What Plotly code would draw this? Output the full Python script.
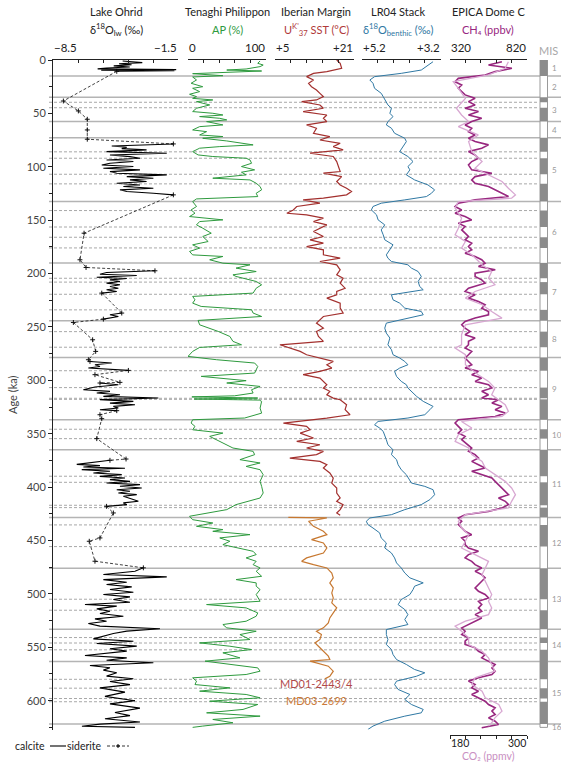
import plotly.graph_objects as go

# ---------------- data (age in ka, value) ----------------
OHRID_CALCITE = [
    [(1.0,-4.6),(2.5,-3.5),(3.5,-4.8),(4.5,-4.1),(5.5,-5.1),(6.5,-4.2),(7.5,-5.5),(8.3,-6.0),(9.0,-1.6),(9.5,-5.8),(10.0,-1.7),(10.6,-4.9)],
    [(78.6,-1.76),(80.5,-5.21),(81.7,-4.37),(83.0,-4.65),(84.2,-3.26),(85.8,-5.50),(87.3,-2.13),(88.9,-5.31),(90.5,-4.19),(92.0,-3.63),(93.6,-5.50),(95.1,-4.00),(96.7,-5.31),(98.3,-5.77),(99.8,-4.00),(101.4,-5.68),(102.9,-3.63),(104.5,-5.31),(106.0,-4.93),(107.6,-2.13),(109.2,-4.37),(110.7,-2.88),(112.3,-4.19),(113.8,-3.26),(115.4,-4.93),(117.0,-3.63),(118.5,-4.56),(120.1,-2.88),(121.6,-4.75),(123.2,-4.37),(124.8,-2.88),(126.3,-1.76)],
    [(197.4,-2.79),(199.0,-5.50),(200.6,-5.87),(201.8,-3.81),(203.4,-6.05),(204.6,-4.37),(205.9,-5.31),(207.4,-4.75),(209.0,-5.50),(210.5,-4.75),(212.1,-5.31),(213.7,-4.84),(215.2,-5.50),(216.8,-4.93),(218.3,-5.77)],
    [(237.0,-4.65),(238.6,-5.31),(240.2,-4.84),(241.7,-5.50),(242.7,-5.68)],
    [(282.3,-6.43),(283.8,-5.21),(285.4,-6.15),(287.0,-5.87),(288.5,-6.52),(290.7,-4.28)],
    [(302.5,-5.87),(304.1,-4.84),(306.3,-6.15),(308.8,-6.80),(310.3,-5.31),(311.9,-6.05),(313.5,-4.75),(315.0,-5.68),(316.6,-2.60),(318.1,-5.87),(319.7,-4.00),(321.3,-5.31),(322.8,-3.91),(324.4,-5.12),(325.9,-4.84),(327.5,-5.87),(328.4,-4.93)],
    [(374.9,-5.31),(376.8,-6.24),(378.7,-7.17),(379.9,-5.87),(381.1,-6.80),(382.4,-4.47),(383.6,-6.89),(385.2,-5.31),(386.8,-6.24),(388.3,-4.65),(389.9,-5.87),(391.4,-4.47),(393.0,-5.31),(394.6,-4.19),(396.1,-5.50),(397.7,-3.63),(399.2,-4.75),(400.8,-3.53),(402.4,-4.93),(403.9,-4.19),(405.5,-4.84),(407.0,-3.81),(408.6,-4.56),(411.1,-4.09),(413.3,-3.72),(414.8,-4.56),(416.4,-4.37),(418.0,-5.50)],
    [(475.6,-3.44),(478.8,-3.91),(481.9,-5.68),(484.1,-2.13),(486.6,-5.68),(489.1,-4.37),(491.2,-5.50),(493.4,-4.09),(495.9,-5.31),(498.4,-4.00),(500.6,-5.68),(502.8,-4.19),(505.3,-5.12),(507.8,-4.19),(510.0,-6.71),(511.5,-4.93),(514.0,-6.05),(516.2,-5.31),(518.4,-5.87),(520.9,-4.56),(523.4,-6.15),(525.6,-5.50),(527.7,-6.52),(530.2,-5.87),(532.7,-2.51),(534.9,-4.37),(537.1,-5.12),(539.6,-5.68),(542.1,-6.24),(544.3,-4.00),(546.5,-6.05),(548.9,-3.81),(551.4,-5.31),(553.6,-4.37),(555.8,-5.87),(557.7,-6.71),(559.9,-4.37),(562.1,-5.50),(564.5,-2.88),(567.0,-6.43),(569.2,-5.31),(571.4,-5.68),(573.9,-4.93),(577.0,-5.50),(579.5,-4.00),(582.0,-5.31),(585.0,-4.19),(588.0,-5.87),(592.0,-4.47),(596.0,-5.59),(600.0,-3.91),(603.0,-5.31),(607.0,-3.63),(611.0,-5.03),(614.0,-4.19),(617.0,-5.59),(620.0,-3.63),(622.0,-5.87),(624.0,-6.88),(625.0,-3.91)],
]
OHRID_SIDERITE = [
    [(10.6,-4.93),(38.4,-7.92),(47.7,-7.08),(55.5,-6.58),(65.5,-6.58),(74.2,-6.58),(78.6,-1.76)],
    [(126.3,-1.76),(162.2,-6.76),(187.1,-6.99),(194.3,-6.65),(197.4,-2.79)],
    [(218.3,-5.77),(237.0,-4.65)],
    [(242.7,-5.68),(245.8,-7.36),(262.0,-6.28),(272.9,-6.11),(280.7,-6.52),(282.3,-6.43)],
    [(290.7,-4.28),(294.7,-6.15),(301.9,-4.75),(302.5,-5.87)],
    [(328.4,-4.93),(332.2,-5.87),(335.9,-5.77),(354.6,-6.05),(373.7,-4.41),(374.9,-5.31)],
    [(418.0,-5.50),(424.2,-5.12),(447.6,-5.87),(450.7,-6.47),(469.4,-6.15),(475.6,-3.44)],
]
AP = [(0.9,93),(3.1,90),(4.7,97),(6.2,93),(8.4,75),(9.4,50),(10.3,95),(12.8,6),(14.7,45),(15.9,6),(18.7,11),(21.8,4),(25.0,19),(26.5,6),(29.6,15),(32.1,2),(34.3,11),(35.9,6),(37.4,32),(39.0,11),(42.1,28),(45.2,11),(48.3,6),(49.9,32),(51.5,45),(53.0,15),(54.6,41),(56.1,50),(57.7,24),(60.8,45),(62.4,15),(65.5,6),(67.1,24),(70.2,15),(71.7,45),(73.3,19),(75.8,50),(78.0,75),(79.5,84),(81.1,41),(82.6,15),(85.8,6),(88.9,13),(90.4,32),(92.0,75),(93.6,80),(96.7,82),(99.8,69),(102.9,86),(105.1,69),(107.6,75),(110.7,32),(112.3,80),(115.4,88),(118.5,93),(121.6,95),(124.8,88),(127.9,90),(130.1,11),(132.6,6),(137.2,11),(140.4,4),(143.5,9),(146.6,2),(149.7,45),(151.3,15),(154.4,11),(157.5,19),(162.2,30),(165.3,19),(170.0,26),(173.1,6),(176.2,15),(179.3,2),(182.5,6),(184.0,45),(187.1,28),(190.3,45),(191.8,80),(194.9,62),(198.1,88),(201.2,58),(202.7,62),(207.4,88),(210.5,95),(213.7,88),(218.3,84),(221.4,6),(224.6,9),(227.7,6),(230.8,17),(233.9,82),(237.0,84),(240.2,95),(243.9,13),(248.0,15),(254.2,39),(258.9,54),(263.5,58),(266.7,69),(269.2,15),(272.9,6),(277.6,0),(280.7,37),(283.8,86),(287.0,90),(290.1,88),(293.2,86),(296.3,17),(297.9,37),(300.3,75),(302.5,50),(305.7,93),(308.8,82),(311.9,84),(314.5,60),(315.5,5),(316.6,90),(317.5,8),(318.5,92),(319.7,95),(326.0,93),(330.7,95),(335.3,73),(336.9,6),(340.0,4),(343.1,9),(346.3,6),(349.4,45),(352.5,28),(355.6,37),(358.7,45),(363.4,58),(366.5,84),(369.6,86),(374.3,67),(377.4,93),(380.6,75),(383.7,93),(388.4,97),(394.6,93),(399.3,95),(405.5,97),(410.2,93),(416.4,62),(421.1,50),(424.2,28),(427.3,2),(430.5,6),(433.6,32),(436.7,11),(439.8,45),(441.4,32),(444.5,80),(447.6,41),(450.7,54),(453.9,45),(457.0,67),(460.1,84),(463.2,88),(466.3,75),(469.5,88),(472.6,84),(475.7,93),(478.8,88),(483.5,95),(486.6,62),(489.7,88),(492.8,88),(496.0,93),(500.6,88),(506.9,93),(510.0,24),(513.1,75),(517.8,90),(520.9,88),(525.6,75),(528.7,45),(531.8,50),(535.0,88),(538.1,67),(542.7,80),(545.9,15),(549.0,54),(552.1,82),(555.2,45),(559.9,67),(563.0,22),(566.1,58),(569.3,90),(572.4,93),(575.5,75),(578.6,6),(581.7,11),(584.9,9),(588.0,54),(591.1,15),(594.2,75),(597.3,93),(600.5,28),(603.6,90),(608.2,71),(611.4,24),(614.5,93),(617.6,32),(620.7,58),(623.8,19),(625.0,6)]
SST_MD01 = [(0.0,17.5),(3.1,18.2),(7.8,18.5),(10.9,15.5),(12.5,12.8),(15.6,11.4),(18.7,12.8),(21.8,11.8),(25.0,12.4),(28.1,13.4),(31.2,14.1),(34.3,14.8),(37.4,13.4),(39.0,10.4),(42.1,14.1),(45.2,14.8),(48.3,10.7),(51.5,15.5),(54.6,14.8),(57.7,15.5),(60.8,11.4),(63.9,13.4),(68.6,12.8),(71.7,16.1),(74.9,14.1),(78.0,18.2),(81.1,16.8),(84.2,18.8),(87.3,12.1),(90.4,16.8),(95.1,17.5),(99.8,17.8),(104.5,18.2),(106.0,14.8),(109.2,18.5),(113.8,17.5),(117.0,18.2),(120.1,19.5),(123.2,20.5),(126.3,19.5),(129.4,14.8),(131.0,10.7),(134.1,14.1),(137.2,9.4),(140.4,8.7),(143.5,7.4),(145.0,11.4),(148.1,14.8),(151.3,12.8),(154.4,15.5),(157.5,14.1),(160.6,12.8),(165.3,14.8),(168.4,12.1),(171.5,14.8),(174.7,11.4),(177.8,14.8),(182.5,14.8),(185.6,18.2),(188.7,14.1),(191.8,17.5),(196.5,18.2),(201.2,17.5),(204.3,18.8),(209.0,18.2),(213.7,19.2),(216.8,17.5),(219.9,17.5),(223.0,15.5),(227.7,18.2),(232.4,18.2),(237.0,18.8),(240.2,14.8),(243.3,14.1),(246.4,13.4),(251.1,14.8),(254.2,13.4),(258.9,13.8),(263.5,14.8),(266.7,6.0),(269.8,8.0),(272.9,10.1),(276.0,11.4),(279.1,14.1),(282.3,16.8),(285.4,15.5),(288.5,16.5),(291.6,14.1),(294.7,10.7),(297.9,14.1),(301.0,14.8),(304.1,15.5),(307.2,14.8),(310.3,16.1),(313.5,15.5),(316.6,16.8),(318.2,18.2),(322.9,19.5),(327.5,19.2),(332.2,20.2),(335.3,15.5),(340.0,6.7),(343.1,11.4),(346.3,12.1),(349.4,10.1),(354.0,12.8),(357.2,9.4),(360.3,14.1),(363.4,11.4),(366.5,14.8),(369.6,13.4),(372.8,8.0),(375.9,14.1),(379.0,15.5),(382.1,14.8),(386.8,16.1),(391.5,16.8),(396.2,16.5),(400.8,17.5),(405.5,17.5),(410.2,18.2),(413.3,17.5),(416.4,18.8),(421.1,18.2),(424.2,17.5),(426.4,18.2)]
SST_MD03 = [(428.3,7.7),(428.9,15.5),(432.0,11.8),(436.7,12.8),(441.4,14.8),(444.5,15.5),(449.2,12.4),(452.3,14.8),(457.0,15.5),(461.7,14.8),(466.3,11.4),(469.5,10.4),(472.6,12.8),(475.7,15.5),(480.4,16.5),(485.0,16.8),(489.7,16.1),(494.4,16.8),(499.1,16.5),(503.8,16.8),(508.4,16.5),(513.1,17.5),(517.8,16.8),(522.5,16.1),(527.2,15.8),(531.8,14.8),(535.0,13.4),(538.1,14.4),(542.7,14.1),(545.9,13.1),(549.0,13.8),(553.7,14.8),(558.3,15.8),(561.5,16.1),(563.0,12.1),(567.7,15.8),(572.4,16.8),(577.1,16.1),(579.6,15.1)]
LR04 = [(1.6,3.39),(6.2,3.56),(9.4,3.69),(12.5,4.20),(15.6,4.88),(18.7,5.00),(21.8,4.92),(26.5,4.88),(31.2,4.71),(34.3,4.66),(37.4,4.62),(42.1,4.54),(45.2,4.45),(49.9,4.49),(53.0,4.41),(57.7,4.54),(60.8,4.58),(63.9,4.45),(68.6,4.37),(73.3,4.11),(76.4,4.07),(81.1,4.15),(85.8,4.24),(90.4,4.03),(95.1,3.90),(99.8,4.03),(102.9,3.98),(107.6,4.07),(112.3,3.86),(117.0,3.52),(121.6,3.35),(124.8,3.43),(127.9,3.56),(131.0,4.11),(134.1,4.71),(137.2,4.92),(140.4,4.96),(145.0,4.83),(149.7,4.79),(154.4,4.62),(159.1,4.71),(163.7,4.66),(168.4,4.62),(173.1,4.41),(177.8,4.49),(182.5,4.58),(185.6,4.54),(188.7,4.45),(191.8,4.03),(194.9,3.94),(198.1,3.77),(202.7,3.69),(207.4,3.77),(212.1,3.73),(215.2,3.64),(219.9,4.45),(224.6,4.41),(227.7,4.24),(232.4,4.11),(235.5,3.69),(238.6,3.64),(243.3,4.20),(246.4,4.58),(251.1,4.62),(255.8,4.58),(260.4,4.49),(266.7,4.54),(271.3,4.45),(276.0,4.41),(279.1,4.24),(282.3,4.11),(285.4,4.03),(288.5,4.24),(291.6,4.37),(296.3,4.32),(301.0,4.20),(304.1,4.07),(307.2,4.03),(310.3,3.94),(315.0,3.81),(319.7,3.64),(324.4,3.39),(327.5,3.47),(332.2,3.60),(335.3,4.03),(338.5,4.79),(341.6,4.88),(344.7,4.75),(347.8,4.66),(350.9,4.62),(355.6,4.58),(360.3,4.54),(365.0,4.41),(369.6,4.45),(374.3,4.32),(379.0,4.28),(383.7,4.20),(388.4,4.07),(393.0,3.98),(396.2,3.94),(399.3,3.60),(402.4,3.39),(407.1,3.35),(411.7,3.47),(416.4,3.69),(421.1,4.11),(425.8,4.45),(428.9,5.00),(432.0,5.09),(435.1,5.05),(438.3,4.92),(442.9,4.75),(447.6,4.71),(452.3,4.58),(457.0,4.62),(461.7,4.45),(466.3,4.37),(471.0,4.32),(475.7,4.20),(480.4,4.11),(485.0,3.98),(489.7,3.64),(492.8,3.86),(496.0,3.90),(500.6,3.98),(505.3,4.20),(510.0,4.28),(514.7,4.11),(519.4,4.03),(524.0,4.11),(528.7,4.03),(533.4,4.58),(538.1,4.58),(542.7,4.54),(547.4,4.58),(552.1,4.45),(556.8,4.41),(561.5,4.32),(566.1,4.07),(570.8,3.86),(573.9,3.60),(577.1,3.81),(581.7,4.32),(584.9,4.37),(589.5,4.28),(594.2,3.98),(598.9,4.11),(603.6,3.94),(608.2,3.64),(611.4,3.69),(614.5,4.11),(619.2,4.62),(623.8,4.92),(627.0,5.05)]
CH4 = [(1.6,657),(4.7,570),(7.8,722),(10.9,613),(14.0,548),(17.2,374),(20.3,353),(23.4,396),(26.5,374),(29.6,396),(32.7,418),(35.9,483),(39.0,440),(42.1,483),(45.2,418),(48.3,505),(51.5,440),(54.6,526),(57.7,461),(60.8,418),(63.9,461),(67.1,440),(70.2,483),(73.3,440),(76.4,483),(79.5,570),(82.6,526),(85.8,440),(88.9,483),(92.0,505),(95.1,461),(98.2,440),(102.9,461),(106.0,592),(109.2,483),(112.3,461),(115.4,483),(118.5,570),(121.6,614),(124.8,657),(127.9,700),(131.0,483),(134.1,374),(137.2,353),(140.4,396),(143.5,353),(146.6,418),(149.7,461),(152.8,374),(156.0,418),(159.1,396),(162.2,418),(165.3,440),(168.4,418),(171.5,461),(174.7,440),(177.8,461),(180.9,418),(184.0,483),(187.1,526),(190.3,548),(193.4,505),(196.5,614),(199.6,483),(202.7,483),(205.9,526),(209.0,548),(213.7,440),(216.8,418),(219.9,483),(223.0,440),(226.1,505),(229.2,548),(232.4,526),(235.5,570),(238.6,570),(241.7,483),(244.8,418),(248.0,396),(251.1,418),(254.2,450),(257.3,418),(260.4,483),(263.5,440),(266.7,440),(269.8,418),(272.9,461),(276.0,440),(279.1,418),(282.3,440),(285.4,461),(288.5,418),(291.6,505),(294.7,461),(297.9,526),(301.0,483),(304.1,570),(307.2,592),(310.3,526),(313.5,570),(316.6,526),(318.2,635),(321.3,592),(324.4,657),(327.5,613),(330.7,679),(333.8,613),(336.9,374),(340.0,353),(343.1,374),(346.3,396),(349.4,374),(352.5,418),(355.6,396),(360.3,440),(363.4,461),(366.5,440),(369.6,483),(372.8,505),(375.9,461),(379.0,505),(382.1,548),(385.2,461),(388.4,526),(391.5,592),(394.6,613),(397.7,635),(400.8,657),(404.0,679),(407.1,700),(410.2,635),(413.3,679),(416.4,700),(419.5,657),(422.7,570),(425.8,418),(428.9,374),(432.0,396),(435.1,374),(438.3,396),(441.4,418),(444.5,461),(447.6,396),(450.7,418),(453.9,418),(457.0,440),(460.1,505),(463.2,440),(466.3,418),(469.5,461),(472.6,483),(475.7,526),(478.8,483),(481.9,526),(485.0,548),(488.2,526),(491.3,505),(494.4,483),(497.5,505),(500.6,548),(503.8,570),(506.9,505),(510.0,526),(513.1,505),(516.2,526),(519.4,483),(522.5,526),(525.6,483),(528.7,440),(531.8,396),(535.0,418),(538.1,396),(541.2,440),(544.3,418),(547.4,418),(550.5,483),(553.7,505),(556.8,548),(559.9,526),(563.0,570),(566.1,613),(569.3,592),(572.4,613),(575.5,592),(578.6,505),(581.7,440),(584.9,483),(588.0,461),(591.1,505),(594.2,461),(597.3,505),(600.5,548),(603.6,570),(606.7,613),(609.8,592),(613.0,613),(616.1,570),(619.2,613),(622.3,635),(625.4,526)]
CO2 = [(1.6,271),(7.8,266),(14.0,240),(20.3,185),(26.5,193),(35.9,204),(45.2,190),(51.5,198),(57.7,209),(62.4,193),(70.2,224),(76.4,209),(85.8,214),(95.1,230),(101.4,219),(107.6,240),(113.8,261),(120.1,271),(126.3,282),(129.4,276),(132.6,193),(138.8,188),(148.1,198),(157.5,193),(163.7,188),(170.0,204),(176.2,198),(182.5,214),(191.8,230),(198.1,245),(204.3,240),(210.5,250),(216.8,219),(223.0,204),(229.2,230),(235.5,245),(241.7,261),(248.0,204),(257.3,198),(266.7,198),(269.8,188),(276.0,204),(285.4,204),(294.7,224),(301.0,240),(307.2,250),(313.5,245),(322.9,266),(329.1,271),(333.8,261),(338.5,198),(344.7,214),(350.9,193),(357.2,188),(363.4,209),(369.6,214),(375.9,230),(382.1,235),(388.4,250),(394.6,266),(400.8,276),(407.1,282),(413.3,276),(419.5,271),(425.8,204),(432.0,193),(438.3,198),(444.5,209),(450.7,204),(457.0,198),(463.2,219),(469.5,240),(475.7,235),(481.9,230),(488.2,235),(494.4,240),(500.6,245),(506.9,240),(513.1,245),(519.4,240),(525.6,204),(530.3,188),(535.0,198),(541.2,209),(547.4,209),(553.7,230),(559.9,240),(566.1,245),(572.4,250),(578.6,219),(584.9,214),(591.1,230),(597.3,235),(603.6,256),(609.8,261),(616.1,250),(620.7,245),(623.8,240)]

MIS_SOLID = [15, 35, 57.7, 72.7, 132.6, 190, 244.2, 278.5, 337, 365, 428.5, 476, 533, 563.4, 621.8]
MIS_DASHED = [39.6, 44.7, 86, 92, 107, 116, 141, 156.4, 166, 176, 204.4, 208, 219.4, 234, 254.4, 269, 291, 306.8, 316.8, 317.8, 345.8, 354.6, 389.8, 395.5, 417, 419.2, 435.4, 455.7, 505, 515.3, 540.9, 546, 552.4, 580, 588.3, 598, 601]
MIS_WARM = [(0,15),(35,39.6),(44.7,57.7),(72.7,86),(92,107),(116,132.6),(141,156.4),(166,176),(190,204.4),(208,219.4),(234,244.2),(254.4,269),(278.5,291),(306.8,316.8),(317.8,337),(345.8,354.6),(365,389.8),(395.5,417),(419.2,428.5),(435.4,455.7),(476,505),(515.3,533),(540.9,546),(552.4,580),(588.3,598),(601,621.8)]
MIS_LABELS = ["1","2","3","4","5","6","7","8","9","10","11","12","13","14","15","16"]
MIS_LABEL_AGE = [7.5, 25, 46.4, 65.2, 102.6, 161.3, 217, 261.4, 307.8, 351, 396.8, 452.3, 504.5, 548.2, 592.6, 624.5]

# ---------------- helpers ----------------
def unzip(pairs):
    return [p[0] for p in pairs], [p[1] for p in pairs]

def join(segs):
    a, v = [], []
    for s in segs:
        for (x, y) in s:
            a.append(x); v.append(y)
        a.append(None); v.append(None)
    return a, v

FONT = "Lato, 'Open Sans', sans-serif"
W, H = 561, 762
ML, MR, MT, MB = 49, 0, 60, 22
PW, PH = W - ML - MR, H - MT - MB

def px(x):  # pixel x -> paper
    return (x - ML) / PW

def py(y):  # pixel y -> paper
    return (H - MB - y) / PH

Y_MAX = 627
c_green, c_red, c_orange, c_blue, c_purple, c_pink = "#2e9a3e", "#a3302e", "#c77830", "#2f78a3", "#98277f", "#d8a8d2"

fig = go.Figure()

a, v = join(OHRID_SIDERITE)
fig.add_trace(go.Scatter(x=v, y=a, xaxis="x", yaxis="y", mode="lines+markers",
                         line=dict(color="#111", width=0.8, dash="3px,2px"),
                         marker=dict(symbol="cross-thin", size=3.5, line=dict(width=1, color="#111")),
                         showlegend=False, hoverinfo="skip"))
a, v = join(OHRID_CALCITE)
fig.add_trace(go.Scatter(x=v, y=a, xaxis="x", yaxis="y", mode="lines",
                         line=dict(color="#000", width=1.1), showlegend=False, hoverinfo="skip"))
a, v = unzip(AP)
fig.add_trace(go.Scatter(x=v, y=a, xaxis="x2", yaxis="y", mode="lines",
                         line=dict(color=c_green, width=1), showlegend=False, hoverinfo="skip"))
a, v = unzip(SST_MD01)
fig.add_trace(go.Scatter(x=v, y=a, xaxis="x3", yaxis="y", mode="lines",
                         line=dict(color=c_red, width=1.2), showlegend=False, hoverinfo="skip"))
a, v = unzip(SST_MD03)
fig.add_trace(go.Scatter(x=v, y=a, xaxis="x3", yaxis="y", mode="lines",
                         line=dict(color=c_orange, width=1.2), showlegend=False, hoverinfo="skip"))
a, v = unzip(LR04)
fig.add_trace(go.Scatter(x=v, y=a, xaxis="x4", yaxis="y", mode="lines",
                         line=dict(color=c_blue, width=1), showlegend=False, hoverinfo="skip"))
a, v = unzip(CO2)
fig.add_trace(go.Scatter(x=v, y=a, xaxis="x6", yaxis="y", mode="lines",
                         line=dict(color=c_pink, width=1.3), showlegend=False, hoverinfo="skip"))
a, v = unzip(CH4)
fig.add_trace(go.Scatter(x=v, y=a, xaxis="x5", yaxis="y", mode="lines",
                         line=dict(color=c_purple, width=1.6), showlegend=False, hoverinfo="skip"))

# ---------------- shapes ----------------
shapes = []
for ag in MIS_DASHED:
    shapes.append(dict(type="line", xref="paper", yref="y", x0=0, x1=px(538), y0=ag, y1=ag,
                       line=dict(color="#a8a8a8", width=1, dash="3px,2px"), layer="below"))
for ag in MIS_SOLID:
    shapes.append(dict(type="line", xref="paper", yref="y", x0=0, x1=1, y0=ag, y1=ag,
                       line=dict(color="#b4b4b4", width=1.5), layer="below"))
bx0, bx1 = px(540), px(547.5)
shapes.append(dict(type="rect", xref="paper", yref="y", x0=bx0, x1=bx1, y0=0, y1=625,
                   fillcolor="white", line=dict(color="#9a9a9a", width=1)))
for (a0, a1) in MIS_WARM:
    shapes.append(dict(type="rect", xref="paper", yref="y", x0=bx0, x1=bx1, y0=a0, y1=a1,
                       fillcolor="#8c8c8c", line=dict(width=0)))
ly = py(746)
shapes.append(dict(type="line", xref="paper", yref="paper", x0=px(50), x1=px(66), y0=ly, y1=ly,
                   line=dict(color="#000", width=1.1)))
shapes.append(dict(type="line", xref="paper", yref="paper", x0=px(107), x1=px(129), y0=ly, y1=ly,
                   line=dict(color="#000", width=0.8, dash="3px,2px")))
shapes.append(dict(type="line", xref="paper", yref="paper", x0=px(118), x1=px(118), y0=py(744), y1=py(748),
                   line=dict(color="#000", width=1)))
shapes.append(dict(type="line", xref="paper", yref="paper", x0=px(116), x1=px(120), y0=ly, y1=ly,
                   line=dict(color="#000", width=1)))

# ---------------- annotations ----------------
ann = []
def text(x, y, t, size=11, color="#222", xanchor="center", xref="paper", yref="paper"):
    ann.append(dict(x=x, y=y, xref=xref, yref=yref, text=t, showarrow=False,
                    font=dict(family=FONT, size=size, color=color), xanchor=xanchor, yanchor="middle"))

headers = [
    (116, "Lake Ohrid", "δ<sup>18</sup>O<sub>lw</sub> (‰)", "#222"),
    (227, "Tenaghi Philippon", "AP (%)", c_green),
    (316, "Iberian Margin", "U<sup>K'</sup><sub>37</sub> SST (°C)", "#b03a3a"),
    (398, "LR04 Stack", "δ<sup>18</sup>O<sub>benthic</sub> (‰)", c_blue),
    (488, "EPICA Dome C", "CH₄ (ppbv)", c_purple),
]
for (xc, t1, t2, col) in headers:
    text(px(xc), py(11), t1)
    text(px(xc), py(30), t2, color=col)

end_labels = [(53, 178, "−8.5", "−1.5"), (188, 265.5, "0", "100"), (275, 354, "+5", "+21"),
              (362, 440.5, "+5.2", "+3.2"), (450, 527, "320", "820")]
for (x0, x1, l0, l1) in end_labels:
    text(px(x0) - 0.002, py(47), l0, size=11.5, xanchor="left")
    text(px(x1) + 0.002, py(47), l1, size=11.5, xanchor="right")

text(px(548), py(50), "MIS", size=11, color="#a8a8a8")
for lab, ag in zip(MIS_LABELS, MIS_LABEL_AGE):
    text(px(549.5), ag, lab, size=8, color="#9a9a9a", xanchor="left", yref="y")

text(px(316), 583.5, "MD01-2443/4", size=11, color="#b0494a", xref="paper", yref="y")
text(px(316), 599.5, "MD03-2699", size=11, color="#cc7a38", xref="paper", yref="y")

text(px(450) - 0.002, py(742.5), "180", size=10.5, xanchor="left")
text(px(527) + 0.002, py(742.5), "300", size=10.5, xanchor="right")
text(px(488), py(755.5), "CO₂ (ppmv)", size=10.5, color="#c98fc2")

text(px(47), py(746), "calcite", size=10.5, xanchor="right")
text(px(104), py(746), "siderite", size=10.5, xanchor="right")

# ---------------- axes ----------------
top = dict(side="top", anchor="y", showline=True, linecolor="#222", linewidth=1, ticks="inside",
           ticklen=3, tickcolor="#222", tickwidth=1, showticklabels=False, showgrid=False,
           zeroline=False, fixedrange=True)

layout = dict(
    width=W, height=H, margin=dict(l=ML, r=MR, t=MT, b=MB),
    paper_bgcolor="white", plot_bgcolor="white",
    font=dict(family=FONT, size=11, color="#333"),
    showlegend=False,
    xaxis=dict(top, domain=[px(53), px(178)], range=[-8.5, -1.5], tickvals=[-8.5, -7.1, -5.7, -4.3, -2.9, -1.5]),
    xaxis2=dict(top, domain=[px(188), px(265.5)], range=[0, 100], tickvals=[0, 20, 40, 60, 80, 100]),
    xaxis3=dict(top, domain=[px(275), px(354)], range=[5, 21], tickvals=[5, 8.2, 11.4, 14.6, 17.8, 21]),
    xaxis4=dict(top, domain=[px(362), px(440.5)], range=[5.2, 3.2], tickvals=[5.2, 4.8, 4.4, 4.0, 3.6, 3.2]),
    xaxis5=dict(top, domain=[px(450), px(527)], range=[320, 820], tickvals=[320, 420, 520, 620, 720, 820]),
    xaxis6=dict(side="bottom", anchor="free", overlaying="x5", position=py(735),
                range=[180, 300], tickvals=[180, 204, 228, 252, 276, 300],
                showline=True, linecolor="#222", linewidth=1, ticks="outside", ticklen=3,
                tickcolor="#222", showticklabels=False, showgrid=False, zeroline=False),
    yaxis=dict(domain=[py(729.5), 1], range=[Y_MAX, 0], showline=True, linecolor="#222", linewidth=1,
               ticks="outside", ticklen=4, tickcolor="#222", tickvals=list(range(0, 601, 50)),
               tickfont=dict(size=11, color="#444"), showgrid=False, zeroline=False,
               minor=dict(tickvals=list(range(25, 626, 50)), ticks="outside", ticklen=3, tickcolor="#222"),
               title=dict(text="Age (ka)", font=dict(size=11, color="#444"), standoff=6)),
    shapes=shapes, annotations=ann,
)
fig.update_layout(**layout)
fig.write_html("out.html")
